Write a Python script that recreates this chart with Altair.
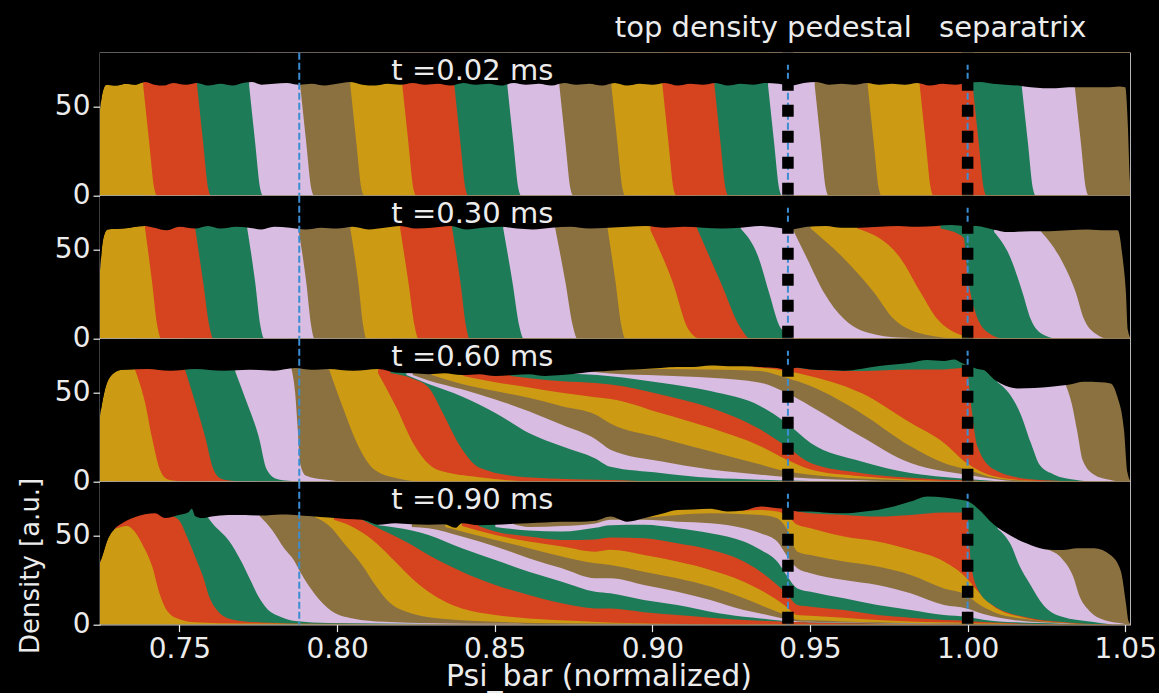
import altair as alt
import pandas as pd

# ---------------- axis / style values ----------------
PSI_DOMAIN = [0.7248, 1.0515]
PSI_END = 1.0518
DENSITY_DOMAIN = [0, 80.5]
PSI_TICKS = [0.75, 0.80, 0.85, 0.90, 0.95, 1.00, 1.05]
DENSITY_TICKS = [0, 50]
BAND_COLORS = ["#CC9B13", "#D6431F", "#1E7B58", "#D8BCE1", "#8B7140"]
TIME_LABELS = ["t =0.02 ms", "t =0.30 ms", "t =0.60 ms", "t =0.90 ms"]
TIME_LABEL_POS = [0.8172, 65.0]
REFERENCE_LINES = [0.788, 0.943, 1.0]
MARKED_LINES = [0.943, 1.0]
MARKED_NAMES = ["top density pedestal", "separatrix"]
MARKED_NAME_PSI = [0.9352, 1.0143]
MARKED_NAME_DENS = 89.1

# ---------------- t = 0.02 ms ----------------
TOP_002 = [(0.7248, 48), (0.7256, 58), (0.7268, 62.5), (0.7300, 62), (0.7330, 63), (0.7360, 62.5), (0.7390, 64),
           (0.7420, 62.5), (0.7450, 62), (0.7480, 63.5), (0.7520, 62.5), (0.7556, 63.5), (0.7590, 62), (0.7630, 63),
           (0.7670, 62), (0.7700, 63.5), (0.7730, 64), (0.7760, 62.5), (0.7800, 63), (0.7840, 63.5), (0.7880, 62.5),
           (0.7920, 63), (0.7960, 62), (0.8000, 63), (0.8040, 64), (0.8080, 62.5), (0.8120, 62), (0.8160, 63),
           (0.8200, 62.5), (0.8240, 63.5), (0.8280, 62.5), (0.8320, 63), (0.8360, 62), (0.8400, 63.5), (0.8440, 62.5),
           (0.8480, 63), (0.8520, 62), (0.8560, 63.5), (0.8600, 62.5), (0.8640, 63), (0.8680, 62), (0.8720, 63.5),
           (0.8760, 62.5), (0.8800, 63), (0.8840, 62), (0.8880, 63.5), (0.8920, 62), (0.8960, 63), (0.9000, 62.5),
           (0.9040, 63.5), (0.9080, 62), (0.9120, 63), (0.9160, 62.5), (0.9200, 63.5), (0.9240, 62), (0.9280, 63),
           (0.9320, 62.5), (0.9360, 63.5), (0.9400, 63), (0.9440, 62), (0.9480, 63.5), (0.9520, 64), (0.9560, 62.5),
           (0.9600, 63), (0.9640, 62.5), (0.9680, 63.5), (0.9720, 62.5), (0.9760, 63), (0.9800, 62.5), (0.9840, 63.5),
           (0.9880, 62), (0.9920, 63), (0.9960, 62.5), (1.0000, 63.5), (1.0040, 64), (1.0080, 63), (1.0120, 62.5),
           (1.0160, 62), (1.0200, 61), (1.0240, 60.5), (1.0280, 60.5), (1.0320, 61), (1.0360, 61), (1.0400, 61),
           (1.0440, 61), (1.0480, 61.5), (1.0500, 61), (1.0508, 40), (1.0514, 10), (1.0518, 0)]
EDGES_002 = [
    [(0.7385, 62), (0.7404, 30), (0.7420, 4), (0.7429, 0)],
    [(0.7556, 62), (0.7575, 30), (0.7591, 4), (0.7600, 0)],
    [(0.7721, 62), (0.7740, 30), (0.7756, 4), (0.7765, 0)],
    [(0.7883, 62), (0.7902, 30), (0.7918, 4), (0.7927, 0)],
    [(0.8042, 62), (0.8061, 30), (0.8077, 4), (0.8086, 0)],
    [(0.8207, 62), (0.8226, 30), (0.8242, 4), (0.8251, 0)],
    [(0.8372, 62), (0.8391, 30), (0.8407, 4), (0.8416, 0)],
    [(0.8540, 62), (0.8559, 30), (0.8575, 4), (0.8584, 0)],
    [(0.8705, 62), (0.8724, 30), (0.8740, 4), (0.8749, 0)],
    [(0.8870, 62), (0.8889, 30), (0.8905, 4), (0.8914, 0)],
    [(0.9032, 62), (0.9051, 30), (0.9067, 4), (0.9076, 0)],
    [(0.9197, 62), (0.9216, 30), (0.9232, 4), (0.9241, 0)],
    [(0.9367, 62), (0.9386, 30), (0.9402, 4), (0.9411, 0)],
    [(0.9515, 62), (0.9534, 30), (0.9550, 4), (0.9559, 0)],
    [(0.9683, 62), (0.9702, 30), (0.9718, 4), (0.9727, 0)],
    [(0.9848, 62), (0.9867, 30), (0.9883, 4), (0.9892, 0)],
    [(1.0016, 62), (1.0035, 30), (1.0051, 4), (1.0060, 0)],
    [(1.0172, 61), (1.0191, 30), (1.0207, 4), (1.0216, 0)],
    [(1.0340, 61), (1.0359, 30), (1.0375, 4), (1.0384, 0)],
]

# ---------------- t = 0.30 ms ----------------
TOP_030 = [(0.7248, 38), (0.7258, 56), (0.7272, 61.5), (0.7320, 62), (0.7391, 63.5), (0.7420, 62.5), (0.7460, 61),
           (0.7500, 63), (0.7550, 62), (0.7590, 63.5), (0.7630, 62), (0.7680, 63), (0.7720, 62.5), (0.7760, 61.5),
           (0.7800, 63), (0.7850, 62.5), (0.7900, 61.5), (0.7950, 62.5), (0.8000, 62), (0.8050, 63), (0.8100, 61.5),
           (0.8150, 62.5), (0.8200, 63.5), (0.8250, 62), (0.8300, 62.5), (0.8360, 63.5), (0.8410, 61.5), (0.8460, 62.5),
           (0.8520, 63), (0.8570, 62), (0.8620, 61.5), (0.8680, 62.5), (0.8740, 63), (0.8800, 62), (0.8860, 62.5),
           (0.8920, 63), (0.8980, 63.5), (0.9040, 62.5), (0.9100, 63), (0.9160, 62.5), (0.9220, 62), (0.9280, 62.5),
           (0.9340, 63.5), (0.9400, 62.5), (0.9440, 61.5), (0.9490, 63), (0.9550, 63.5), (0.9600, 62.5), (0.9660, 62.5),
           (0.9720, 63), (0.9780, 63.5), (0.9840, 63), (0.9900, 63.5), (0.9950, 64), (0.9990, 63.5), (1.0030, 63.5),
           (1.0080, 61.5), (1.0130, 60), (1.0200, 60.5), (1.0260, 60.5), (1.0320, 61), (1.0380, 61.5), (1.0440, 61),
           (1.0476, 61), (1.0492, 45), (1.0502, 26), (1.0508, 5), (1.0518, 0)]
EDGES_030 = [
    [(0.7391, 62), (0.7413, 32), (0.7430, 7), (0.7442, 0)],
    [(0.7550, 62), (0.7575, 32), (0.7595, 7), (0.7608, 0)],
    [(0.7715, 62), (0.7740, 32), (0.7757, 7), (0.7769, 0)],
    [(0.7877, 62), (0.7902, 32), (0.7918, 7), (0.7928, 0)],
    [(0.8042, 62), (0.8067, 32), (0.8083, 7), (0.8093, 0)],
    [(0.8200, 62), (0.8226, 32), (0.8246, 7), (0.8258, 0)],
    [(0.8365, 62), (0.8391, 32), (0.8409, 7), (0.8420, 0)],
    [(0.8527, 62), (0.8556, 32), (0.8578, 7), (0.8592, 0)],
    [(0.8692, 62), (0.8724, 32), (0.8748, 7), (0.8762, 0)],
    [(0.8858, 62), (0.8883, 32), (0.8902, 7), (0.8914, 0)],
    [(0.8994, 61), (0.9064, 32), (0.9115, 5), (0.9153, 0)],
    [(0.9142, 62), (0.9216, 32), (0.9280, 6), (0.9311, 0)],
    [(0.9280, 62), (0.9338, 45), (0.9370, 26), (0.9407, 6), (0.9460, 0)],
    [(0.9444, 62), (0.9491, 45), (0.9544, 26), (0.9608, 11), (0.9714, 2), (0.9800, 0.5), (0.9978, 0)],
    [(0.9502, 62), (0.9608, 45), (0.9703, 26), (0.9766, 11), (0.9872, 2), (0.9978, 0)],
    [(0.9650, 62), (0.9788, 45), (0.9851, 26), (0.9904, 11), (0.9978, 2), (1.0031, 0)],
    [(0.9914, 62), (0.9987, 57), (1.0000, 36), (1.0021, 17), (1.0063, 3.6), (1.0116, 0)],
    [(1.0084, 60), (1.0137, 45), (1.0174, 26), (1.0200, 11), (1.0242, 2), (1.0285, 0)],
    [(1.0232, 60.5), (1.0295, 45), (1.0343, 26), (1.0369, 11), (1.0412, 2), (1.0444, 0)],
]

# ---------------- t = 0.60 ms ----------------
TOP_060 = [(0.7248, 37), (0.7264, 52), (0.7285, 60), (0.7317, 63), (0.7400, 63.5), (0.7470, 62.5), (0.7550, 63.5),
           (0.7640, 62.5), (0.7720, 63), (0.7800, 62.5), (0.7867, 64), (0.7920, 63), (0.7973, 63.5), (0.8050, 62.5),
           (0.8131, 63.5), (0.8184, 61.5), (0.8240, 61), (0.8290, 60.5), (0.8340, 61), (0.8396, 60), (0.8450, 60.5),
           (0.8502, 59.5), (0.8560, 60), (0.8608, 60.5), (0.8660, 59.5), (0.8713, 60), (0.8770, 61), (0.8819, 62),
           (0.8867, 62.5), (0.8920, 63), (0.8973, 63.5), (0.9026, 64), (0.9079, 64.5), (0.9130, 64.5), (0.9184, 65.4),
           (0.9240, 65), (0.9290, 65), (0.9340, 64.5), (0.9396, 64), (0.9425, 63), (0.9460, 64.1), (0.9502, 63.2),
           (0.9555, 62.8), (0.9608, 62.5), (0.9661, 63.5), (0.9714, 65), (0.9766, 66), (0.9819, 67), (0.9872, 68.5),
           (0.9925, 68), (0.9957, 68.8), (0.9980, 67), (1.0000, 65.5), (1.0031, 63.5), (1.0051, 62.8), (1.0084, 57.5),
           (1.0105, 55.3), (1.0158, 52.5), (1.0264, 53.4), (1.0320, 54.5), (1.0369, 56.2), (1.0420, 56), (1.0454, 55.3),
           (1.0475, 47.8), (1.0496, 29), (1.0507, 5), (1.0518, 0)]
EDGES_060 = [
    [(0.7359, 63), (0.7391, 44.4), (0.7412, 25.6), (0.7438, 6.8), (0.7460, 1.5), (0.7486, 0.5), (0.7520, 0)],
    [(0.7518, 63), (0.7550, 44.4), (0.7581, 25.6), (0.7608, 6.8), (0.7634, 1.5), (0.7666, 0.5), (0.7700, 0)],
    [(0.7677, 62), (0.7714, 44.4), (0.7751, 25.6), (0.7777, 6.8), (0.7809, 1.5), (0.7846, 0.5), (0.7880, 0)],
    [(0.7856, 63), (0.7867, 50), (0.7875, 30), (0.7883, 10), (0.7900, 3.5), (0.7960, 1.2), (0.8036, 0)],
    [(0.7975, 63), (0.8022, 40), (0.8062, 22), (0.8120, 6.5), (0.8200, 1.5), (0.8280, 0)],
    [(0.8130, 61), (0.8190, 41), (0.8240, 22), (0.8320, 6.5), (0.8450, 2.5), (0.8650, 0)],
    [(0.8170, 61), (0.8240, 58), (0.8290, 53), (0.8340, 37), (0.8390, 20), (0.8450, 8), (0.8600, 2.5), (0.8900, 0.8),
     (0.9050, 0)],
    [(0.8220, 60), (0.8290, 55), (0.8396, 48), (0.8502, 38.7), (0.8608, 27.4), (0.8713, 19.9), (0.8819, 13),
     (0.8867, 8.3), (0.9026, 4.9), (0.9184, 2.1), (0.9343, 1.1), (0.9502, 0.4), (0.9714, 0)],
    [(0.8240, 60), (0.8290, 57), (0.8396, 52), (0.8502, 46.3), (0.8608, 39.7), (0.8713, 32), (0.8819, 24),
     (0.8867, 18), (0.9026, 11.5), (0.9184, 6.8), (0.9343, 3.9), (0.9425, 2.6), (0.9502, 1.7), (0.9661, 0.7),
     (0.9819, 0)],
    [(0.8300, 60), (0.8396, 55), (0.8502, 51), (0.8608, 47.2), (0.8713, 42.5), (0.8819, 37.8), (0.8867, 32.7),
     (0.9026, 24.6), (0.9184, 17.1), (0.9343, 9.6), (0.9425, 5.8), (0.9502, 3.9), (0.9661, 1.7), (0.9819, 0.6),
     (0.9925, 0)],
    [(0.8400, 59.5), (0.8502, 56), (0.8608, 53), (0.8713, 50), (0.8819, 47.5), (0.8867, 46.6), (0.9026, 38.7),
     (0.9184, 30.3), (0.9343, 19.9), (0.9425, 12.4), (0.9502, 6.8), (0.9661, 3.0), (0.9819, 1.1), (0.9925, 0.4),
     (1.0000, 0)],
    [(0.8550, 59.5), (0.8713, 56.5), (0.8819, 55.5), (0.8867, 54.7), (0.9026, 49.1), (0.9184, 41.6), (0.9343, 29.3),
     (0.9425, 19.9), (0.9502, 10.5), (0.9661, 4.9), (0.9819, 2.1), (0.9925, 1.1), (0.9997, 0.7), (1.0084, 0)],
    [(0.8700, 61), (0.8867, 59.4), (0.9026, 55.7), (0.9184, 51.0), (0.9343, 42.5), (0.9425, 33.1), (0.9502, 21.8),
     (0.9661, 11.5), (0.9819, 4.9), (0.9925, 2.6), (0.9997, 1.5), (1.0084, 0.4), (1.0190, 0)],
    [(0.8800, 62), (0.8867, 60.9), (0.9026, 59.8), (0.9184, 58.5), (0.9343, 55.7), (0.9425, 50.0), (0.9502, 42.5),
     (0.9661, 25.6), (0.9819, 10.5), (0.9925, 5.8), (0.9997, 3.9), (1.0084, 1.5), (1.0190, 0)],
    [(0.8850, 62.5), (0.9026, 63.5), (0.9184, 63.2), (0.9343, 62.3), (0.9425, 58.5), (0.9502, 53.8), (0.9661, 38.7),
     (0.9819, 19.9), (0.9925, 10.5), (0.9997, 6.8), (1.0084, 2.1), (1.0190, 0.4), (1.0295, 0)],
    [(0.9320, 64.5), (0.9343, 64.2), (0.9425, 62.3), (0.9502, 59.4), (0.9661, 50.0), (0.9819, 33.1), (0.9925, 21.8),
     (0.9997, 10.5), (1.0084, 3.0), (1.0190, 0.6), (1.0295, 0)],
    [(0.9460, 64), (0.9502, 63.2), (0.9661, 62.3), (0.9819, 63.2), (0.9925, 63.2), (0.9997, 64.1), (1.0010, 44.4),
     (1.0031, 19.9), (1.0084, 6.8), (1.0190, 1.5), (1.0295, 0.4), (1.0348, 0)],
    [(1.0095, 56), (1.0130, 50), (1.0168, 38), (1.0200, 22), (1.0230, 9), (1.0273, 4), (1.0340, 1), (1.0400, 0)],
    [(1.0310, 55), (1.0330, 44), (1.0348, 28), (1.0365, 12), (1.0400, 4), (1.0450, 1), (1.0490, 0)],
]

# ---------------- t = 0.90 ms ----------------
TOP_090 = [(0.7248, 35), (0.7253, 37.4), (0.7274, 48.6), (0.7296, 54.3), (0.7317, 57), (0.7338, 59), (0.7391, 62.2),
           (0.7423, 62.7), (0.7454, 60), (0.7497, 61.8), (0.7530, 63.5), (0.7539, 65.2), (0.7550, 61), (0.7571, 60),
           (0.7602, 60.9), (0.7655, 61.8), (0.7708, 61.8), (0.7761, 61.4), (0.7820, 62), (0.7867, 61.8), (0.7920, 61),
           (0.7973, 60.3), (0.8030, 59.5), (0.8079, 59), (0.8131, 56.2), (0.8184, 57.1), (0.8237, 56.5), (0.8290, 56.2),
           (0.8340, 56.5), (0.8375, 54.5), (0.8396, 57.1), (0.8450, 56), (0.8502, 56.2), (0.8560, 56.8), (0.8608, 57.1),
           (0.8660, 57.5), (0.8713, 58), (0.8770, 58), (0.8819, 58.5), (0.8867, 60.9), (0.8920, 58), (0.8973, 59.9),
           (0.9030, 62.5), (0.9079, 64.6), (0.9130, 64.8), (0.9184, 65.2), (0.9237, 63.7), (0.9290, 64.3), (0.9343, 66.5),
           (0.9396, 65.6), (0.9425, 65.2), (0.9460, 63.7), (0.9502, 63.7), (0.9555, 63), (0.9608, 62.7), (0.9660, 63.5),
           (0.9714, 64.6), (0.9766, 66.5), (0.9819, 69.3), (0.9872, 72.2), (0.9925, 71.6), (0.9978, 70.3),
           (0.9997, 69.7), (1.0031, 65.6), (1.0084, 56.2), (1.0137, 50), (1.0190, 45.5), (1.0243, 42.5), (1.0300, 42),
           (1.0348, 43), (1.0401, 43), (1.0454, 39), (1.0486, 30), (1.0502, 12), (1.0510, 2), (1.0518, 0)]
EDGES_090 = [
    [(0.7296, 54), (0.7315, 55), (0.7333, 55.5), (0.7355, 53), (0.7383, 45), (0.7415, 32), (0.7436, 18), (0.7462, 7.5),
     (0.7500, 3), (0.7550, 1.3), (0.7700, 0.6), (0.8200, 0.3), (0.8800, 0)],
    [(0.7480, 61), (0.7500, 58.5), (0.7525, 49), (0.7555, 36), (0.7575, 27), (0.7595, 15.5), (0.7625, 7), (0.7670, 2.8),
     (0.7761, 1.2), (0.7950, 0.5), (0.8500, 0.2), (0.8800, 0)],
    [(0.7590, 60.5), (0.7605, 57), (0.7658, 47), (0.7695, 36), (0.7728, 24), (0.7750, 16), (0.7775, 9.5), (0.7820, 4.4),
     (0.7867, 2), (0.7973, 0.9), (0.8300, 0.4), (0.8800, 0.1), (0.9000, 0)],
    [(0.7755, 61), (0.7795, 53), (0.7832, 43), (0.7864, 36), (0.7885, 29), (0.7930, 17), (0.7980, 8), (0.8050, 3.5),
     (0.8150, 1.6), (0.8300, 0.8), (0.8600, 0.4), (0.9000, 0.1), (0.9200, 0)],
    [(0.7930, 60.5), (0.7973, 56), (0.8026, 45), (0.8079, 33.6), (0.8121, 22.3), (0.8163, 13), (0.8237, 6.3),
     (0.8343, 3.1), (0.8502, 1.6), (0.8713, 0.7), (0.9200, 0.2), (0.9400, 0)],
    [(0.7990, 59), (0.8057, 54.3), (0.8131, 44.9), (0.8184, 35.5), (0.8237, 26.1), (0.8290, 18.5), (0.8343, 12.9),
     (0.8396, 9.1), (0.8502, 5.4), (0.8608, 3.5), (0.8766, 2), (0.8883, 1), (0.9100, 0.4), (0.9500, 0)],
    [(0.8080, 59), (0.8131, 54.3), (0.8237, 44.9), (0.8290, 39.2), (0.8396, 29.8), (0.8502, 22.3), (0.8608, 16.7),
     (0.8713, 12), (0.8819, 9.1), (0.8867, 9), (0.8973, 7), (0.9079, 5.4), (0.9184, 3.9), (0.9343, 2.2), (0.9502, 1.2),
     (0.9714, 0.6), (1.0000, 0.2), (1.0200, 0)],
    [(0.8131, 56), (0.8237, 53), (0.8290, 50.5), (0.8396, 43), (0.8502, 36.4), (0.8608, 29.8), (0.8713, 24.2),
     (0.8819, 18.5), (0.8867, 17.6), (0.8973, 13.8), (0.9079, 11), (0.9184, 7.3), (0.9290, 4.4), (0.9343, 3.5),
     (0.9396, 2.4), (0.9425, 1.8), (0.9460, 1.4), (0.9502, 1.3), (0.9714, 0.7), (1.0000, 0.3), (1.0250, 0)],
    [(0.8237, 55), (0.8290, 54.3), (0.8396, 49.6), (0.8502, 44), (0.8608, 37.4), (0.8713, 31.7), (0.8819, 26.1),
     (0.8867, 26.1), (0.8973, 22.3), (0.9079, 18.5), (0.9184, 13.8), (0.9290, 8.2), (0.9343, 6.3), (0.9396, 4.2),
     (0.9425, 3.0), (0.9460, 1.8), (0.9502, 1.6), (0.9608, 1.2), (0.9714, 0.9), (1.0000, 0.4), (1.0300, 0)],
    [(0.8343, 55), (0.8396, 52.4), (0.8502, 47.7), (0.8608, 43), (0.8713, 38.3), (0.8819, 34.5), (0.8867, 33.6),
     (0.8973, 29.8), (0.9079, 26.1), (0.9184, 21.4), (0.9290, 14.8), (0.9343, 11), (0.9396, 7.3), (0.9425, 5.4),
     (0.9460, 2.8), (0.9502, 2.4), (0.9608, 1.8), (0.9714, 1.3), (0.9819, 0.9), (0.9925, 0.7), (1.0100, 0.4),
     (1.0350, 0)],
    [(0.8396, 55.5), (0.8502, 50.5), (0.8608, 46.8), (0.8713, 44), (0.8819, 41.1), (0.8867, 42.1), (0.8973, 39.2),
     (0.9079, 35.5), (0.9184, 30.8), (0.9290, 24.2), (0.9343, 19.5), (0.9396, 13.8), (0.9425, 10.1), (0.9460, 5.4),
     (0.9502, 5.0), (0.9608, 3.9), (0.9714, 2.6), (0.9819, 1.8), (0.9925, 1.3), (0.9997, 1.1), (1.0100, 0.6),
     (1.0350, 0)],
    [(0.8449, 55.5), (0.8502, 52.4), (0.8608, 49.6), (0.8713, 47.7), (0.8819, 48), (0.8867, 49), (0.8973, 48.6),
     (0.9079, 45.8), (0.9184, 42.1), (0.9290, 35.5), (0.9343, 29.8), (0.9396, 22.3), (0.9425, 17.6), (0.9460, 11),
     (0.9502, 10.1), (0.9608, 8.2), (0.9714, 5.4), (0.9819, 3.9), (0.9925, 2.6), (0.9997, 2.2), (1.0050, 1.4),
     (1.0150, 0.7), (1.0350, 0)],
    [(0.8502, 55), (0.8608, 53), (0.8713, 52.4), (0.8819, 54.5), (0.8867, 56), (0.8973, 56.2), (0.9079, 54.3),
     (0.9184, 51.5), (0.9290, 46.8), (0.9343, 42.1), (0.9396, 35.5), (0.9425, 28), (0.9460, 20.4), (0.9502, 18.5),
     (0.9608, 14.8), (0.9714, 11), (0.9819, 8.2), (0.9925, 5.4), (0.9997, 4.4), (1.0050, 2.8), (1.0150, 1.3),
     (1.0300, 0.5), (1.0450, 0)],
    [(0.8560, 56.5), (0.8608, 55), (0.8713, 55.5), (0.8819, 57), (0.8867, 59), (0.8973, 59), (0.9079, 58),
     (0.9184, 57.1), (0.9290, 54.3), (0.9343, 51.5), (0.9396, 46.8), (0.9425, 39.2), (0.9460, 31.7), (0.9502, 28.9),
     (0.9608, 25.1), (0.9714, 22.3), (0.9819, 17.6), (0.9925, 11), (0.9997, 9.1), (1.0050, 6), (1.0150, 2.5),
     (1.0300, 0.8), (1.0450, 0)],
    [(0.8900, 60), (0.8973, 60.3), (0.9079, 61.8), (0.9184, 62.7), (0.9290, 62.2), (0.9343, 61.8), (0.9396, 59.9),
     (0.9425, 54.3), (0.9460, 41.1), (0.9502, 39.2), (0.9608, 35.5), (0.9714, 32.7), (0.9819, 28), (0.9925, 20.4),
     (0.9997, 16.7), (1.0031, 12), (1.0084, 7), (1.0190, 3), (1.0300, 1), (1.0450, 0)],
    [(0.9280, 64.2), (0.9343, 64.6), (0.9396, 63.7), (0.9425, 61.8), (0.9460, 56.2), (0.9502, 54.3), (0.9608, 49.6),
     (0.9714, 46.8), (0.9819, 42.1), (0.9925, 35.5), (0.9997, 26.1), (1.0031, 19), (1.0084, 10), (1.0190, 3.5),
     (1.0300, 1.2), (1.0450, 0)],
    [(0.9460, 63.7), (0.9502, 62.7), (0.9608, 61.8), (0.9714, 60.9), (0.9819, 61.8), (0.9925, 63.2), (0.9997, 63.2),
     (1.0010, 35.5), (1.0031, 20.4), (1.0084, 10.5), (1.0190, 4), (1.0300, 1.4), (1.0450, 0)],
    [(1.0095, 54), (1.0137, 45), (1.0165, 33), (1.0197, 23), (1.0240, 11), (1.0297, 4.5), (1.0400, 1.5), (1.0480, 0)],
    [(1.0250, 42.5), (1.0300, 37), (1.0335, 27), (1.0355, 16), (1.0385, 8), (1.0435, 2.5), (1.0496, 0.5), (1.0510, 0)],
]

PANELS = [(TOP_002, EDGES_002), (TOP_030, EDGES_030), (TOP_060, EDGES_060), (TOP_090, EDGES_090)]

FONT = "DejaVu Sans"
TEXT_COLOR = "#ececec"
LINE_BLUE = "#3A8DD3"
W, H = 1030, 142.9


def curve(points):
    return pd.DataFrame(points, columns=["psi", "dens"])


def make_panel(idx, top, edges):
    last = idx == len(PANELS) - 1
    xs = alt.Scale(domain=PSI_DOMAIN, nice=False, zero=False)
    ys = alt.Scale(domain=DENSITY_DOMAIN, nice=False, zero=False)
    if last:
        xax = alt.Axis(values=PSI_TICKS, format=".2f", labelFlush=False, labelPadding=4,
                       titleX=498.5, titleY=60.8, titleAlign="center", titleBaseline="alphabetic",
                       titleFontSize=30, titleFontWeight="normal")
        yax = alt.Axis(values=DENSITY_TICKS, labelFlush=False, labelPadding=3,
                       titleX=-70, titleY=83.7, titleAngle=270, titleAlign="center", titleBaseline="middle",
                       titleFontSize=26, titleFontWeight="normal")
        X = alt.X("psi:Q", scale=xs, axis=xax, title="Psi_bar (normalized)")
        Y = alt.Y("dens:Q", scale=ys, axis=yax, title="Density [a.u.]")
    else:
        yax = alt.Axis(values=DENSITY_TICKS, labelFlush=False, labelPadding=3)
        X = alt.X("psi:Q", scale=xs, axis=None)
        Y = alt.Y("dens:Q", scale=ys, axis=yax, title=None)

    layers = []
    # band 1 fills the whole column up to the total density
    layers.append(alt.Chart(curve(top)).mark_area(color=BAND_COLORS[0], clip=True, interpolate="monotone")
                  .encode(x=X, y=Y, y2=alt.datum(0)))
    # band k+2 starts on top of the cumulative density of bands 1..k+1
    for k, pts in enumerate(edges):
        layers.append(alt.Chart(curve(pts + [(PSI_END, 0.0)]))
                      .mark_area(color=BAND_COLORS[(k + 1) % 5], clip=True, interpolate="monotone")
                      .encode(x=X, y=Y, y2=alt.datum(DENSITY_DOMAIN[1])))
    # empty space above the total density
    layers.append(alt.Chart(curve(top)).mark_area(color="black", clip=True, interpolate="monotone")
                  .encode(x=X, y=Y, y2=alt.datum(DENSITY_DOMAIN[1])))
    layers.append(alt.Chart(pd.DataFrame({"psi": REFERENCE_LINES}))
                  .mark_rule(color=LINE_BLUE, strokeWidth=2, strokeDash=[7, 3])
                  .encode(x=alt.X("psi:Q", scale=xs)))
    layers.append(alt.Chart(pd.DataFrame({"psi": MARKED_LINES}))
                  .mark_rule(color="black", strokeWidth=11.5, strokeDash=[12, 14], strokeCap="butt")
                  .encode(x=alt.X("psi:Q", scale=xs)))
    layers.append(alt.Chart(pd.DataFrame({"psi": [TIME_LABEL_POS[0]], "dens": [TIME_LABEL_POS[1]],
                                          "label": [TIME_LABELS[idx]]}))
                  .mark_text(align="left", baseline="alphabetic", fontSize=29, font=FONT, color=TEXT_COLOR)
                  .encode(x=alt.X("psi:Q", scale=xs), y=alt.Y("dens:Q", scale=ys), text="label:N"))
    if idx == 0:
        layers.append(alt.Chart(pd.DataFrame({"psi": MARKED_NAME_PSI,
                                              "dens": [MARKED_NAME_DENS] * len(MARKED_NAMES),
                                              "label": MARKED_NAMES}))
                      .mark_text(align="center", baseline="alphabetic", fontSize=29, font=FONT, color=TEXT_COLOR)
                      .encode(x=alt.X("psi:Q", scale=xs), y=alt.Y("dens:Q", scale=ys), text="label:N"))
    return alt.layer(*layers).properties(width=W, height=H)


panels = [make_panel(i, t, e) for i, (t, e) in enumerate(PANELS)]

chart = (
    alt.vconcat(*panels, spacing=0, bounds="flush")
    .properties(
        background="black",
        padding={"left": 100, "top": 52.7, "right": 29, "bottom": 640.3},
        autosize=alt.AutoSizeParams(type="none"),
    )
    .configure_view(stroke="#c8c8c8", strokeWidth=1.2)
    .configure_axis(
        labelFont=FONT, titleFont=FONT, labelColor=TEXT_COLOR, titleColor=TEXT_COLOR,
        tickColor=TEXT_COLOR, tickSize=7, tickWidth=1.2, domain=False, grid=False,
        labelFontSize=28,
    )
)

chart.save("out.html", embed_options={"renderer": "svg", "actions": False})
